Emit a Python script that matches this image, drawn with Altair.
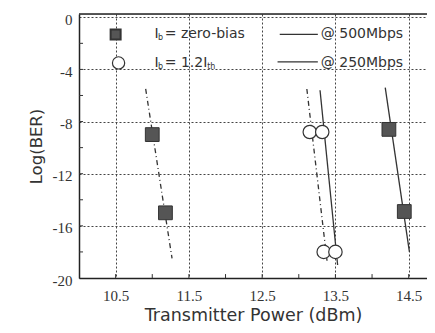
import altair as alt
import pandas as pd

# ---- data ----
# fitted lines (two end points each)
zb250_line_x = [10.91, 11.27]; zb250_line_y = [-5.5, -18.5]
zb500_line_x = [14.18, 14.51]; zb500_line_y = [-5.4, -18.0]
th250_line_x = [13.11, 13.39]; th250_line_y = [-5.5, -18.9]
th500_line_x = [13.29, 13.53]; th500_line_y = [-5.6, -19.0]
# measured points
zb250_x = [11.00, 11.18]; zb250_y = [-9.0, -15.0]
zb500_x = [14.23, 14.44]; zb500_y = [-8.6, -14.9]
th250_x = [13.15, 13.34]; th250_y = [-8.8, -18.0]
th500_x = [13.32, 13.50]; th500_y = [-8.8, -18.0]

x_ticks = [10.5, 11.5, 12.5, 13.5, 14.5]
y_ticks = [0, -4, -8, -12, -16, -20]
x_minor = [10.5, 11.0, 11.5, 12.0, 12.5, 13.0, 13.5, 14.0, 14.5]
y_minor = [-2, -4, -6, -8, -10, -12, -14, -16, -18]

XD = [10.0, 14.75]
YD = [-20, 0.25]
W, H = 348, 264
INK = "#333333"
SERIF = "Liberation Serif, Times New Roman, serif"
SANS = "DejaVu Sans"

xs = alt.Scale(domain=XD, nice=False, zero=False)
ys = alt.Scale(domain=YD, nice=False, zero=False)

lines = pd.DataFrame(
    [dict(s="zb250", x=x, y=y, o=i) for i, (x, y) in enumerate(zip(zb250_line_x, zb250_line_y))]
    + [dict(s="zb500", x=x, y=y, o=i) for i, (x, y) in enumerate(zip(zb500_line_x, zb500_line_y))]
    + [dict(s="th250", x=x, y=y, o=i) for i, (x, y) in enumerate(zip(th250_line_x, th250_line_y))]
    + [dict(s="th500", x=x, y=y, o=i) for i, (x, y) in enumerate(zip(th500_line_x, th500_line_y))]
)
dash_df = lines[lines.s.isin(["zb250", "th250"])]
solid_df = lines[lines.s.isin(["zb500", "th500"])]

sq = pd.DataFrame({"x": zb250_x + zb500_x, "y": zb250_y + zb500_y})
ci = pd.DataFrame({"x": th250_x + th500_x, "y": th250_y + th500_y})

X = lambda **k: alt.X("x:Q", scale=xs, **k)
Y = lambda **k: alt.Y("y:Q", scale=ys, **k)

base_axes = alt.Chart(pd.DataFrame({"x": [10.0], "y": [-20.0]})).mark_point(opacity=0).encode(
    x=X(axis=alt.Axis(values=x_ticks, format=".1f", title="Transmitter Power (dBm)",
                      grid=True, gridDash=[2, 2], gridColor="#444", gridWidth=1,
                      ticks=False, labelFont=SERIF, labelFontSize=15,
                      labelColor=INK, labelPadding=10, titleFont=SANS,
                      titleFontSize=17.5, titleFontWeight="normal", titleColor=INK,
                      titlePadding=3, domainColor="#222", domainWidth=1.5)),
    y=Y(axis=alt.Axis(values=y_ticks, labelExpr="'' + datum.value", title="Log(BER)",
                      grid=True, gridDash=[2, 2], gridColor="#444", gridWidth=1,
                      ticks=False, labelFont=SERIF, labelFontSize=15,
                      labelColor=INK, labelPadding=7, labelOffset=2,
                      titleFont=SANS, titleFontSize=16.5,
                      titleFontWeight="normal", titleColor=INK, titlePadding=8,
                      domainColor="#222", domainWidth=1.5)),
)

top_df = pd.DataFrame({"x": [XD[0]], "x2": [XD[1]], "y": [YD[1]]})
top_border = alt.Chart(top_df).mark_rule(color="#222", strokeWidth=1.5).encode(
    x=X(), x2="x2:Q", y=Y())

xminor_df = pd.DataFrame({"x": x_minor, "y": [YD[0]] * len(x_minor), "y2": [YD[0] + 0.3] * len(x_minor)})
yminor_df = pd.DataFrame({"y": y_minor, "x": [XD[0]] * len(y_minor), "x2": [XD[0] + 0.055] * len(y_minor)})
xminor = alt.Chart(xminor_df).mark_rule(color=INK, strokeWidth=1).encode(x=X(), y=Y(), y2="y2:Q")
yminor = alt.Chart(yminor_df).mark_rule(color=INK, strokeWidth=1).encode(y=Y(), x=X(), x2="x2:Q")

dash_lines = alt.Chart(dash_df).mark_line(color=INK, strokeWidth=1.3, strokeDash=[5, 3, 1, 3]).encode(
    x=X(), y=Y(), detail="s:N", order="o:Q")
solid_lines = alt.Chart(solid_df).mark_line(color=INK, strokeWidth=1.3).encode(
    x=X(), y=Y(), detail="s:N", order="o:Q")

squares = alt.Chart(sq).mark_square(size=190, color="#555", stroke="#333", strokeWidth=1, opacity=1).encode(x=X(), y=Y())
circles = alt.Chart(ci).mark_point(shape="circle", size=180, fill="white", filled=True, stroke="#333",
                                   strokeWidth=1.2, opacity=1).encode(x=X(), y=Y())

# ---- legend (data coordinates) ----
ROW1, ROW2 = -1.32, -3.5
leg_sq = pd.DataFrame({"x": [10.5], "y": [ROW1]})
leg_ci = pd.DataFrame({"x": [10.54], "y": [ROW2]})
leg_lines = pd.DataFrame({"x": [12.74, 13.26, 12.71, 13.26], "y": [ROW1, ROW1, ROW2 + 0.08, ROW2 + 0.08],
                          "r": ["a", "a", "b", "b"]})
leg_text = pd.DataFrame({
    "x": [11.03, 11.17, 11.03, 11.17, 13.30, 13.30],
    "y": [ROW1, ROW1, ROW2, ROW2, ROW1, ROW2],
    "t": ["I", "= zero-bias", "I", "= 1.2I", "@ 500Mbps", "@ 250Mbps"],
})
leg_sub = pd.DataFrame({
    "x": [11.08, 11.08, 11.75],
    "y": [ROW1 - 0.3, ROW2 - 0.3, ROW2 - 0.3],
    "t": ["b", "b", "th"],
})

lg_sq = alt.Chart(leg_sq).mark_square(size=100, color="#555", stroke="#333", opacity=1).encode(x=X(), y=Y())
lg_ci = alt.Chart(leg_ci).mark_point(shape="circle", size=150, fill="white", filled=True, stroke="#333",
                                     strokeWidth=1.2, opacity=1).encode(x=X(), y=Y())
lg_line = alt.Chart(leg_lines).mark_line(color=INK, strokeWidth=1.2).encode(x=X(), y=Y(), detail="r:N")
lg_text = alt.Chart(leg_text).mark_text(align="left", baseline="middle", font=SANS,
                                        fontSize=14, color=INK).encode(x=X(), y=Y(), text="t:N")
lg_sub = alt.Chart(leg_sub).mark_text(align="left", baseline="middle", font=SANS,
                                      fontSize=8, color=INK).encode(x=X(), y=Y(), text="t:N")

chart = alt.layer(
    base_axes, xminor, yminor, top_border, dash_lines, solid_lines, squares, circles,
    lg_sq, lg_ci, lg_line, lg_text, lg_sub,
).properties(
    width=W, height=H,
    autosize=alt.AutoSizeParams(type="none"),
    padding={"left": 71, "top": 6, "right": 0, "bottom": 46},
).configure_view(stroke=None).configure(background="white")

chart.save("out.html", embed_options={"renderer": "svg", "actions": False})
